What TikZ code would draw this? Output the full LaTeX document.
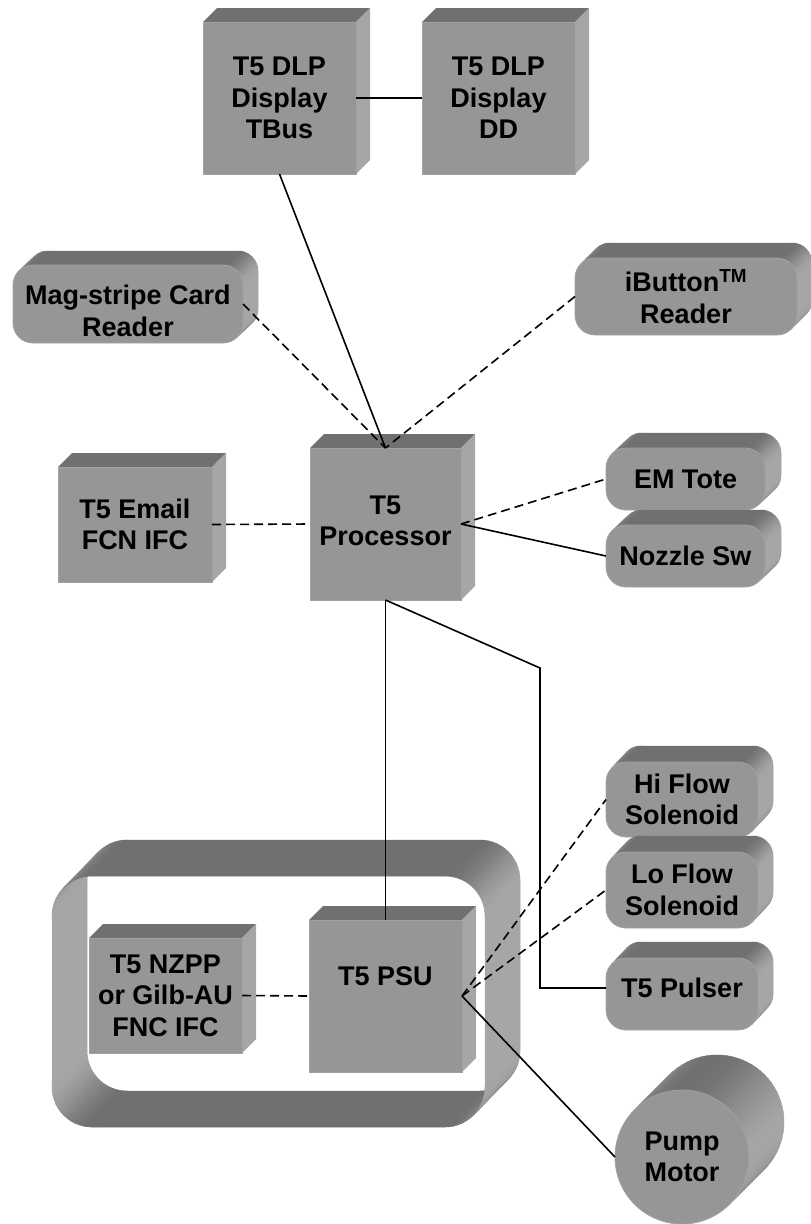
\documentclass[tikz,border=0pt]{standalone}
\usepackage{fontspec}
\setmainfont{Liberation Sans}
\definecolor{facec}{HTML}{969696}
\definecolor{topc}{HTML}{707070}
\definecolor{sidec}{HTML}{A6A6A6}
\definecolor{edgec}{HTML}{A2A2A2}
\tikzset{
  face/.style={draw=edgec, line width=0.8pt, fill=facec, inner sep=0pt, outer sep=0pt},
  lbl/.style={font=\fontsize{27}{31.5}\selectfont\bfseries, align=center, inner sep=0pt},
  conn/.style={line width=1.6pt, draw=black},
  dconn/.style={conn, dash pattern=on 9pt off 5pt},
  sw/.style={fill=sidec!#1!topc, draw=sidec!#1!topc, line width=0.5pt},
}
% straight swept strip: x1 y1 x2 y2 dx dy pct
\newcommand\sstrip[7]{\path[sw=#7] ({#1},{#2}) -- ({#3},{#4}) -- ({#3+#5},{#4+#6}) -- ({#1+#5},{#2+#6}) -- cycle;}
% swept arc: cx cy r a0 a1 dx dy n
\newcommand\asweep[8]{%
  \foreach \i in {1,...,#8}{%
    \pgfmathsetmacro\ta{#4+(#5-#4)*(\i-1)/#8}%
    \pgfmathsetmacro\tb{#4+(#5-#4)*\i/#8}%
    \pgfmathsetmacro\tm{(\ta+\tb)/2}%
    \pgfmathtruncatemacro\pc{100*cos(\tm)*cos(\tm)}%
    \path[sw=\pc] ({#1+#3*cos(\ta)},{#2-#3*sin(\ta)}) -- ({#1+#3*cos(\tb)},{#2-#3*sin(\tb)})
      -- ({#1+#3*cos(\tb)+#6},{#2-#3*sin(\tb)+#7}) -- ({#1+#3*cos(\ta)+#6},{#2-#3*sin(\ta)+#7}) -- cycle;
  }}
% rounded 3D box: name L T R B r dx dy
\newcommand\rbox[8]{%
  \asweep{#2+#6}{#3+#6}{#6}{90}{135}{#7}{#8}{6}%
  \sstrip{#2+#6}{#3}{#4-#6}{#3}{#7}{#8}{0}%
  \asweep{#4-#6}{#3+#6}{#6}{0}{90}{#7}{#8}{14}%
  \sstrip{#4}{#3+#6}{#4}{#5-#6}{#7}{#8}{100}%
  \asweep{#4-#6}{#5-#6}{#6}{-45}{0}{#7}{#8}{6}%
  \pgfmathsetmacro\bw{#4-#2}\pgfmathsetmacro\bh{#5-#3}%
  \node[face, rounded corners=#6pt, minimum width=\bw pt, minimum height=\bh pt] (#1) at ({(#2+#4)/2},{(#3+#5)/2}) {};}
% square 3D box: name L T R B dx dy
\newcommand\cbox[7]{%
  \path[fill=topc] ({#2},{#3}) -- ({#4},{#3}) -- ({#4+#6},{#3+#7}) -- ({#2+#6},{#3+#7}) -- cycle;
  \path[fill=sidec] ({#4},{#3}) -- ({#4+#6},{#3+#7}) -- ({#4+#6},{#5+#7}) -- ({#4},{#5}) -- cycle;
  \pgfmathsetmacro\bw{#4-#2}\pgfmathsetmacro\bh{#5-#3}%
  \node[face, minimum width=\bw pt, minimum height=\bh pt] (#1) at ({(#2+#4)/2},{(#3+#5)/2}) {};}
\begin{document}
\begin{tikzpicture}[x=1pt,y=-1pt]
\useasboundingbox (0,0) rectangle (811,1224);
% ---- enclosing frame (ring) ----
\sstrip{52}{916}{52}{1087}{35}{-36}{100}
\asweep{92}{1087}{40}{180}{270}{35}{-36}{14}
\sstrip{92}{1127}{445}{1127}{35}{-36}{0}
\asweep{92}{916}{40}{135}{180}{35}{-36}{7}
\asweep{445}{1087}{40}{270}{315}{35}{-36}{7}
\asweep{92}{916}{40}{90}{135}{35}{-36}{7}
\sstrip{92}{876}{445}{876}{35}{-36}{0}
\asweep{445}{916}{40}{0}{90}{35}{-36}{14}
\sstrip{485}{916}{485}{1087}{35}{-36}{100}
\asweep{445}{1087}{40}{-45}{0}{35}{-36}{7}
% ---- boxes ----
\cbox{tbus}{203}{22}{356}{174}{14}{-14}
\cbox{dd}{422}{22}{575}{174}{14}{-14}
\rbox{mag}{13}{265}{243}{343}{20}{15}{-14}
\rbox{ibut}{575}{258}{797}{335}{20}{15}{-15}
\cbox{email}{58}{467}{212}{582}{14}{-14}
\cbox{proc}{310}{448}{461}{600}{14}{-14}
\rbox{emtote}{606}{448}{765}{510}{20}{16}{-15}
\rbox{nozzle}{606}{525}{765}{587}{20}{16}{-15}
\rbox{hiflow}{606}{762}{758}{837}{20}{15}{-16}
\rbox{loflow}{606}{852}{758}{928}{20}{15}{-16}
\rbox{pulser}{606}{958}{758}{1030}{20}{15}{-16}
\cbox{nzpp}{89}{938}{242}{1053}{14}{-14}
\cbox{psu}{309}{920}{462}{1072}{14}{-14}
% pump motor cylinder
\asweep{682}{1157}{67}{-45}{135}{35}{-35}{40}
\node[face, circle, minimum size=134pt] (pump) at (682,1157) {};
% ---- labels ----
\node[lbl] at (tbus.center) {T5 DLP\\Display\\TBus};
\node[lbl] at (dd.center) {T5 DLP\\Display\\DD};
\node[lbl] at ([yshift=-7pt]mag.center) {Mag-stripe Card\\Reader};
\node[lbl] at (ibut.center) {iButton\textsuperscript{TM}\\Reader};
\node[lbl] at (email.center) {T5 Email\\FCN IFC};
\node[lbl] at ([yshift=3pt]proc.center) {T5\\Processor};
\node[lbl] at (emtote.center) {EM Tote};
\node[lbl] at (nozzle.center) {Nozzle Sw};
\node[lbl] at (hiflow.center) {Hi Flow\\Solenoid};
\node[lbl] at (loflow.center) {Lo Flow\\Solenoid};
\node[lbl] at ([yshift=6pt]pulser.center) {T5 Pulser};
\node[lbl] at (nzpp.center) {T5 NZPP\\or Gilb-AU\\FNC IFC};
\node[lbl] at ([yshift=20pt]psu.center) {T5 PSU};
\node[lbl] at (pump.center) {Pump\\Motor};
% ---- connectors ----
\coordinate (k1) at (540,668);
\coordinate (k2) at (540,988);
\draw[conn] (tbus.east) -- (dd.west);
\draw[conn] (tbus.south) -- (proc.north);
\draw[dconn] (mag.east) -- (proc.north);
\draw[dconn] (ibut.west) -- (proc.north);
\draw[dconn] (email.east) -- (proc.west);
\draw[dconn] (proc.east) -- (emtote.west);
\draw[conn] (proc.east) -- (nozzle.west);
\draw[conn] (proc.south) -- (psu.north);
\draw[conn] (proc.south) -- (k1) -- (k2) -- (k2 -| pulser.west);
\draw[dconn] (nzpp.east) -- (psu.west);
\draw[dconn] (psu.east) -- (hiflow.west);
\draw[dconn] (psu.east) -- (loflow.west);
\draw[conn] (psu.east) -- (pump.west);
\end{tikzpicture}
\end{document}
